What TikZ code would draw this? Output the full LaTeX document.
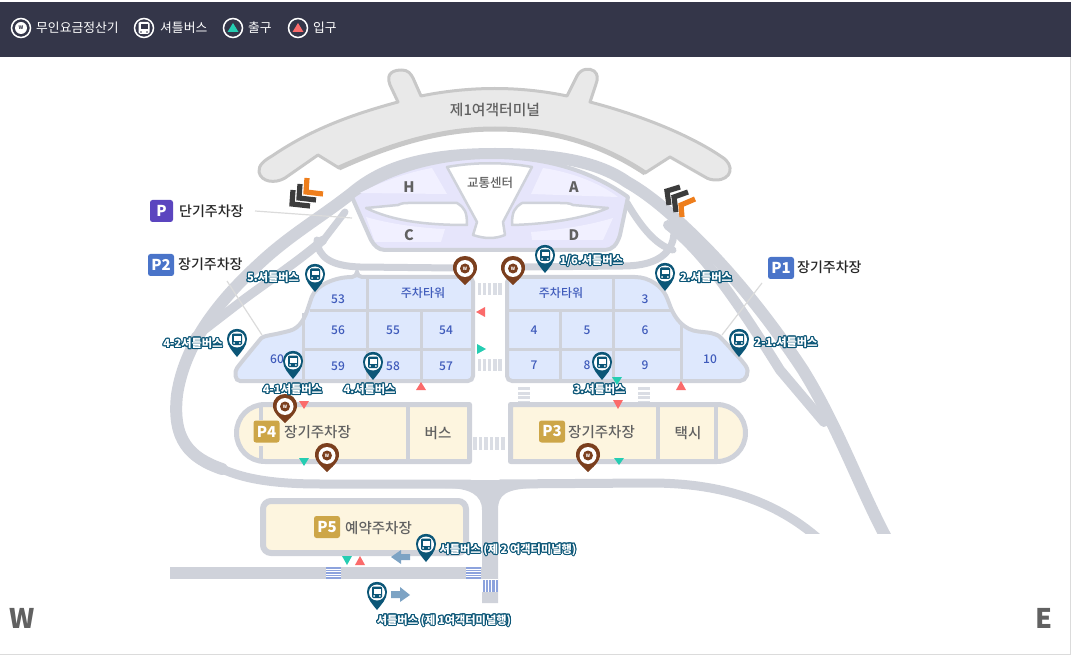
\documentclass[tikz,border=0pt]{standalone}
\usepackage{fontspec}
\usepackage{xcolor}
\usepackage[copies]{contour}
\setmainfont{Noto Sans CJK KR}
\newfontfamily\krmedium{Noto Sans CJK KR Medium}
\usetikzlibrary{positioning,calc}

\definecolor{barnavy}{HTML}{343649}
\definecolor{roadgray}{HTML}{CFD2DA}
\definecolor{stripegray}{HTML}{DADDE4}
\definecolor{termfill}{HTML}{E9E9E9}
\definecolor{termline}{HTML}{C8C8C8}
\definecolor{lilacfill}{HTML}{E6E5FB}
\definecolor{lilacpale}{HTML}{F1F0FF}
\definecolor{blockblue}{HTML}{DEE8FD}
\definecolor{blocktext}{HTML}{3F5BBB}
\definecolor{creamfill}{HTML}{FDF5DF}
\definecolor{goldbadge}{HTML}{CDA648}
\definecolor{badgeviolet}{HTML}{5B45BF}
\definecolor{badgeblue}{HTML}{4A74C9}
\definecolor{pinblue}{HTML}{0B5677}
\definecolor{pinbrown}{HTML}{7B3F1E}
\definecolor{exitteal}{HTML}{25CDB2}
\definecolor{entrycoral}{HTML}{FB6B6B}
\definecolor{chevorange}{HTML}{EE7E1C}
\definecolor{chevdark}{HTML}{3C3C3C}
\definecolor{stripeblue}{HTML}{8DA3DD}
\definecolor{arrowblue}{HTML}{7DA3C4}

\contourlength{1.05pt}
\contournumber{16}
\newcommand{\pintext}[1]{\contour{pinblue}{\textcolor{white}{#1}}}

\tikzset{
    road/.style={draw=roadgray, line width=12pt, line join=round, line cap=round},
    thinroad/.style={draw=roadgray, line width=7pt, line join=round, line cap=round},
    blockline/.style={draw=roadgray, line width=3pt},
    creamline/.style={draw=roadgray, line width=5pt},
    leaderline/.style={draw=black!14, line width=1.2pt},
    chevron/.style={line width=5.2pt, miter limit=10},
    blocklabel/.style={text=blocktext, font=\fontsize{12}{12}\krmedium},
    graylabel/.style={text=black!62, inner sep=0pt, font=\fontsize{14.5}{15}\krmedium},
    barlabel/.style={text=white, anchor=west, inner sep=0pt, font=\fontsize{12.8}{13}\selectfont},
    placelabel/.style={text=black!85, anchor=west, inner sep=0pt, font=\fontsize{14}{15}\krmedium},
    badge/.style={rounded corners=2.5pt, text=white, minimum height=22pt, inner sep=0pt, font=\fontsize{15}{15}\bfseries\selectfont},
    pinlabel/.style={inner sep=0pt, font=\fontsize{11.2}{12}\bfseries\selectfont},
    pics/buspin/.style={code={
        \fill[pinblue] (-10,-18) .. controls (-10,-11) and (-4,-5) .. (0,0) .. controls (4,-5) and (10,-11) .. (10,-18)
            .. controls (10,-31.5) and (-10,-31.5) .. (-10,-18) -- cycle;
        \fill[white] (0,-17.5) circle[radius=8pt];
        \fill[pinblue, rounded corners=1.2pt] (-5,-23.5) rectangle (5,-12);
        \fill[white] (-3.5,-21) rectangle (3.5,-16.5);
        \fill[white] (-2.8,-14) circle[radius=1pt] (2.8,-14) circle[radius=1pt];
    }},
    pics/wpin/.style={code={
        \fill[pinbrown] (-12,-17) .. controls (-12,-10) and (-4,-4) .. (0,0) .. controls (4,-4) and (12,-10) .. (12,-17)
            .. controls (12,-33) and (-12,-33) .. (-12,-17) -- cycle;
        \fill[white] (0,-16.5) circle[radius=8.5pt];
        \fill[pinbrown] (0,-16.5) circle[radius=5pt];
        \node[text=white, inner sep=0pt, font=\fontsize{4.5}{5}\bfseries\selectfont] (-mark) at (0,-16.5) {W};
    }},
}

\begin{document}
\begin{tikzpicture}[x=1pt,y=-1pt]
    \useasboundingbox (0,0) rectangle (1077,663);

    % Frame and top bar
    \draw[black!14, line width=1pt] (1070.5,2) -- (1070.5,654.5) -- (0,654.5);
    \fill[barnavy] (0,2) rectangle (1071,57);

    % Legend
    \draw[white, line width=1.5pt] (21,28) circle[radius=9.5pt];
    \fill[white] (21,28) circle[radius=6pt];
    \node[text=barnavy, inner sep=0pt, font=\fontsize{5}{5}\bfseries\selectfont] (legendW) at (21,28) {W};
    \node[barlabel] (legendPay) at (36,28) {무인요금정산기};
    \draw[white, line width=1.5pt] (144,28) circle[radius=9.5pt];
    \fill[white, rounded corners=1.5pt] (138.5,22) rectangle (149.5,34);
    \fill[barnavy] (140.5,24.5) rectangle (147.5,29);
    \fill[barnavy] (141,32) circle[radius=0.9pt] (147,32) circle[radius=0.9pt];
    \node[barlabel] (legendBus) at (160,28) {셔틀버스};
    \draw[white, line width=1.5pt] (233,28) circle[radius=9.5pt];
    \fill[exitteal] (227.5,32) -- (233,23) -- (238.5,32) -- cycle;
    \node[barlabel] (legendExit) at (248,28) {출구};
    \draw[white, line width=1.5pt] (298,28) circle[radius=9.5pt];
    \fill[entrycoral] (292.5,32) -- (298,23) -- (303.5,32) -- cycle;
    \node[barlabel] (legendEntry) at (313,28) {입구};

    % Roads
    \begin{scope}
        \clip (0,0) rectangle (1077,533);
        \draw[road] (495,154) .. controls (560,154) and (600,163) .. (627,182)
            .. controls (650,195) and (670,213) .. (690,232)
            .. controls (730,270) and (770,320) .. (803,370)
            .. controls (840,430) and (860,490) .. (890,545);
        \draw[road, line width=10pt] (668,225) .. controls (700,250) and (730,290) .. (780,370) -- (824,422);
        \draw[road, line width=9pt] (500,484) -- (650,483) .. controls (720,483) and (775,500) .. (820,540);
    \end{scope}
    \draw[road] (495,154) .. controls (430,154) and (385,165) .. (352,193)
        .. controls (320,218) and (290,235) .. (260,263)
        .. controls (225,295) and (185,340) .. (177,395)
        .. controls (172,440) and (190,458) .. (222,469);
    \draw[road, line width=9pt] (218,467) .. controls (240,478) and (270,484) .. (320,484) -- (470,484);
    \draw[road, line width=9pt] (323,240) .. controls (300,260) and (270,280) .. (243,300) -- (195,337);
    \draw[thinroad] (345,212) -- (322,242);
    \draw[thinroad] (317,240) .. controls (318,258) and (332,266) .. (360,267) -- (455,268);
    \draw[thinroad] (523,267) -- (623,266) .. controls (650,266) and (668,258) .. (673,240) -- (676,222);
    \draw[thinroad] (627,203) .. controls (640,225) and (655,245) .. (673,250);
    \fill[roadgray] (440,480) -- (540,480) -- (540,488) .. controls (505,488) and (498,495) .. (498,510)
        -- (498,603) -- (482,603) -- (482,510) .. controls (482,495) and (470,488) .. (445,488) -- cycle;
    \fill[roadgray] (170,567) rectangle (482,579);

    % Road crossings
    \fill[white] (326,567) rectangle (341,579);
    \fill[white] (466,567) rectangle (481,579);
    \fill[white] (482,579) rectangle (498,592);
    \foreach \yy in {567,569.5,572,574.5,577} {
        \fill[stripeblue] (326,\yy) rectangle (341,\yy+1.7);
        \fill[stripeblue] (466,\yy) rectangle (481,\yy+1.7);
    }
    \foreach \xx in {482.5,485.8,489.1,492.4,495.7} {
        \fill[stripeblue] (\xx,579.5) rectangle (\xx+2.2,592);
    }
    \foreach \xx in {477.5,482.7,487.9,493.1,498.3} {
        \fill[stripegray] (\xx,283) rectangle (\xx+3.5,295);
        \fill[stripegray] (\xx,359) rectangle (\xx+3.5,371);
    }
    \foreach \xx in {473,478.6,484.2,489.8,495.4,501} {
        \fill[stripegray] (\xx,437) rectangle (\xx+3.6,450);
    }
    \foreach \yy in {387,391.5,396,400.5} {
        \fill[stripegray] (518,\yy) rectangle (530,\yy+3);
        \fill[stripegray] (638,\yy) rectangle (650,\yy+3);
    }

    % Terminal 1
    \draw[termline, fill=termfill, line width=3pt, line join=round]
        (259,172) .. controls (258,165) and (265,160) .. (272,156)
        .. controls (310,130) and (350,115) .. (398,102)
        -- (390,85) .. controls (385,72) and (395,70) .. (402,70) .. controls (408,70) and (411,74) .. (413,78)
        -- (421,96) .. controls (470,86) and (520,86) .. (567,96)
        -- (577,76) .. controls (581,68) and (590,68) .. (594,71) .. controls (598,74) and (598,79) .. (596,84)
        -- (590,102) .. controls (640,115) and (690,135) .. (722,157)
        .. controls (735,165) and (732,180) .. (716,180) .. controls (712,180) and (708,179) .. (705,177)
        -- (670,157) -- (645,173) .. controls (600,143) and (550,129) .. (495,129)
        .. controls (440,129) and (390,145) .. (339,168) -- (318,155) -- (285,178)
        .. controls (275,184) and (261,182) .. (259,172) -- cycle;
    \draw[termline, line width=5pt, line join=round]
        (645,173) .. controls (600,143) and (550,129) .. (495,129) .. controls (440,129) and (390,145) .. (339,168);
    \node[text=black!62, inner sep=0pt, font=\fontsize{14.8}{15}\krmedium] (termOne) at (495,110) {제1여객터미널};

    % Concourse
    \draw[roadgray, fill=lilacfill, line width=4pt, line join=round]
        (352,197) .. controls (390,170) and (440,157) .. (492,157) .. controls (545,157) and (590,170) .. (628,197)
        -- (620,235) .. controls (617,245) and (612,250) .. (605,250) -- (385,250)
        .. controls (378,250) and (374,245) .. (371,240) -- cycle;
    \fill[lilacpale] (360,193) .. controls (385,180) and (410,172) .. (432,168) -- (447,194) -- cycle;
    \fill[lilacpale] (543,168) .. controls (570,172) and (598,182) .. (618,197) -- (531,194) -- cycle;
    \fill[lilacpale] (366,217) .. controls (390,224) and (420,228) .. (445,229) -- (441,242) -- (375,242) -- cycle;
    \fill[lilacpale] (613,218) .. controls (590,225) and (560,230) .. (531,232) -- (532,240) -- (603,240) -- cycle;
    \draw[roadgray, fill=white, line width=2.5pt, line join=round]
        (366,208) -- (398,205) .. controls (402,203) and (405,203) .. (408,203) -- (457,203)
        .. controls (465,208) and (467,212) .. (467,225) .. controls (430,225) and (395,222) .. (366,208) -- cycle;
    \draw[roadgray, fill=white, line width=2.5pt, line join=round]
        (608,208) -- (573,205) .. controls (570,203) and (565,203) .. (560,203) -- (522,203)
        .. controls (514,208) and (512,212) .. (512,225) .. controls (550,224) and (585,218) .. (608,208) -- cycle;
    \draw[roadgray, fill=white, line width=2.5pt, line join=round]
        (447,167) .. controls (475,162) and (505,162) .. (532,167)
        -- (503,222) -- (505,235) .. controls (495,239) and (485,239) .. (473,235) -- (477,222) -- cycle;
    \node[text=black!62, inner sep=0pt, font=\fontsize{12.5}{13}\krmedium] (transitCenter) at (490,183) {교통센터};
    \node[graylabel, font=\fontsize{14.5}{15}\bfseries\selectfont] (gateH) at (409,187) {H};
    \node[graylabel, font=\fontsize{14.5}{15}\bfseries\selectfont] (gateA) at (574,187) {A};
    \node[graylabel, font=\fontsize{14.5}{15}\bfseries\selectfont] (gateC) at (409,235) {C};
    \node[graylabel, font=\fontsize{14.5}{15}\bfseries\selectfont] (gateD) at (574,235) {D};

    % Chevrons
    \draw[chevron, chevdark] (293,190) -- (292,204) -- (310,206);
    \draw[chevron, chevdark] (300,184) -- (299,198) -- (316,200);
    \draw[chevron, chevorange] (307,178) -- (306,192) -- (323,194);
    \draw[chevron, chevdark] (680,187) -- (667,191) -- (669,205);
    \draw[chevron, chevdark] (688,192) -- (674,197) -- (676,212);
    \draw[chevron, chevorange] (695,199) -- (681,205) -- (682,217);

    % Long term blocks
    \draw[roadgray, fill=blockblue, line width=4pt, rounded corners=5pt]
        (357,277) -- (473,277) -- (473,381) -- (245,381)
        .. controls (235,381) and (234,372) .. (240,364) -- (258,342)
        .. controls (263,336) and (272,335) .. (285,332) .. controls (300,328) and (305,318) .. (310,302)
        .. controls (316,285) and (335,277) .. (357,277) -- cycle;
    \draw[blockline] (303,313) -- (303,381);
    \draw[blockline] (310,311) -- (473,311);
    \draw[blockline] (367,277) -- (367,381);
    \draw[blockline] (303,349) -- (473,349);
    \draw[blockline] (421,311) -- (421,381);
    \draw[roadgray, fill=blockblue, line width=4pt, rounded corners=5pt]
        (507,277) -- (630,277) .. controls (650,277) and (662,287) .. (668,300)
        .. controls (675,320) and (685,330) .. (703,332) .. controls (712,333) and (718,335) .. (723,340)
        -- (743,362) .. controls (750,372) and (746,381) .. (735,381) -- (507,381) -- cycle;
    \draw[blockline] (613,277) -- (613,381);
    \draw[blockline] (507,311) -- (672,311);
    \draw[blockline] (507,349) -- (681,349);
    \draw[blockline] (560,311) -- (560,381);
    \draw[blockline] (681,322) -- (681,381);

    % Block numbers
    \node[blocklabel] (towerWest) at (423,293) {주차타워};
    \node[blocklabel] (lot53) at (338,299) {53};
    \node[blocklabel] (lot56) at (338,330) {56};
    \node[blocklabel] (lot55) at (393,330) {55};
    \node[blocklabel] (lot54) at (446,330) {54};
    \node[blocklabel] (lot59) at (338,366) {59};
    \node[blocklabel] (lot58) at (393,366) {58};
    \node[blocklabel] (lot57) at (446,366) {57};
    \node[blocklabel] (lot60) at (277,359) {60};
    \node[blocklabel] (towerEast) at (561,293) {주차타워};
    \node[blocklabel] (lot3) at (645,299) {3};
    \node[blocklabel] (lot4) at (534,330) {4};
    \node[blocklabel] (lot5) at (587,330) {5};
    \node[blocklabel] (lot6) at (645,330) {6};
    \node[blocklabel] (lot7) at (534,365) {7};
    \node[blocklabel] (lot8) at (587,365) {8};
    \node[blocklabel] (lot9) at (645,365) {9};
    \node[blocklabel] (lot10) at (710,359) {10};

    % P4 and P3
    \draw[creamline, fill=creamfill, line join=round]
        (265,404.5) -- (469.5,404.5) -- (469.5,461.5) -- (265,461.5)
        .. controls (249,461.5) and (236.5,449) .. (236.5,433) .. controls (236.5,417) and (249,404.5) .. (265,404.5) -- cycle;
    \draw[roadgray, line width=4pt] (408,404) -- (408,462);
    \draw[roadgray, line width=4pt] (261,404) -- (261,420) (261,446) -- (261,462);
    \draw[creamline, fill=creamfill, line join=round]
        (510.5,404.5) -- (717,404.5) .. controls (733,404.5) and (745.5,417) .. (745.5,433)
        .. controls (745.5,449) and (733,461.5) .. (717,461.5) -- (510.5,461.5) -- cycle;
    \draw[roadgray, line width=4pt] (658,404) -- (658,462);
    \draw[roadgray, line width=4pt] (716,404) -- (716,462);

    % P5
    \draw[roadgray, fill=creamfill, line width=6pt, rounded corners=8pt] (263,501) rectangle (466,553);

    % Lot names
    \node[badge, fill=goldbadge, minimum width=26pt] (badgePfour) at (266.5,431.5) {P4};
    \node[graylabel, anchor=west] (namePfour) at (284,432) {장기주차장};
    \node[graylabel] (nameBus) at (438,433) {버스};
    \node[badge, fill=goldbadge, minimum width=26pt] (badgePthree) at (552,431.5) {P3};
    \node[graylabel, anchor=west] (namePthree) at (568,432) {장기주차장};
    \node[graylabel] (nameTaxi) at (688,433) {택시};
    \node[badge, fill=goldbadge, minimum width=26pt] (badgePfive) at (327,527) {P5};
    \node[graylabel, anchor=west] (namePfive) at (345,528) {예약주차장};

    % Place labels with leaders
    \node[badge, fill=badgeviolet, minimum width=23pt] (badgeShort) at (161.5,211) {P};
    \node[placelabel] (nameShort) at (179,211) {단기주차장};
    \coordinate (shortA) at (255,211);
    \coordinate (shortB) at (352,218);
    \draw[leaderline] (shortA) -- (shortB);
    \node[badge, fill=badgeblue, minimum width=26pt] (badgePtwo) at (161,265) {P2};
    \node[placelabel] (namePtwo) at (178,264) {장기주차장};
    \coordinate (ptwoA) at (227,281);
    \coordinate (ptwoB) at (262,335);
    \draw[leaderline] (ptwoA) -- (ptwoB);
    \node[badge, fill=badgeblue, minimum width=26pt] (badgePone) at (781,268) {P1};
    \node[placelabel] (namePone) at (797,267) {장기주차장};
    \coordinate (poneA) at (762,283);
    \coordinate (poneB) at (722,335);
    \draw[leaderline] (poneA) -- (poneB);

    % Entries and exits
    \fill[entrycoral] (476,312) -- (485,307) -- (485,317) -- cycle;
    \fill[exitteal] (486,349) -- (477,344) -- (477,354) -- cycle;
    \fill[entrycoral] (421,382) -- (416,390) -- (426,390) -- cycle;
    \fill[entrycoral] (304,409) -- (299,401) -- (309,401) -- cycle;
    \fill[exitteal] (617,385) -- (612,377) -- (622,377) -- cycle;
    \fill[entrycoral] (681,381) -- (676,390) -- (686,390) -- cycle;
    \fill[entrycoral] (618,409) -- (613,400) -- (623,400) -- cycle;
    \fill[exitteal] (304,466) -- (299,458) -- (309,458) -- cycle;
    \fill[exitteal] (619,465) -- (614,458) -- (624,458) -- cycle;
    \fill[exitteal] (347,565) -- (342,556) -- (352,556) -- cycle;
    \fill[entrycoral] (360,556) -- (355,565) -- (365,565) -- cycle;

    % Shuttle direction
    \fill[arrowblue] (391,557) -- (401,550) -- (401,554) -- (410,554) -- (410,560) -- (401,560) -- (401,564) -- cycle;
    \fill[arrowblue] (410,595) -- (400,587) -- (400,591) -- (391,591) -- (391,598) -- (400,598) -- (400,602) -- cycle;

    % Pay station pins
    \pic (payA) at (465,285) {wpin};
    \pic (payB) at (513,285) {wpin};
    \pic (payC) at (285,423) {wpin};
    \pic (payD) at (327,472) {wpin};
    \pic (payE) at (588,472) {wpin};

    % Shuttle pins
    \pic at (545,273) {buspin};
    \pic at (665,291) {buspin};
    \pic at (739,357) {buspin};
    \pic at (602,380) {buspin};
    \pic at (315,292) {buspin};
    \pic at (237,357) {buspin};
    \pic at (293,379) {buspin};
    \pic at (373,380) {buspin};
    \pic at (426,562) {buspin};
    \pic at (377,610) {buspin};

    \node[pinlabel] (busOneSix) at (591.5,261) {\pintext{1/6.셔틀버스}};
    \node[pinlabel] (busTwo) at (706,278) {\pintext{2.셔틀버스}};
    \node[pinlabel] (busTwoOne) at (786,343) {\pintext{2-1.셔틀버스}};
    \node[pinlabel] (busThree) at (599.5,390) {\pintext{3.셔틀버스}};
    \node[pinlabel] (busFive) at (273,278) {\pintext{5.셔틀버스}};
    \node[pinlabel] (busFourTwo) at (193,344) {\pintext{4-2셔틀버스}};
    \node[pinlabel] (busFourOne) at (292.5,390) {\pintext{4-1셔틀버스}};
    \node[pinlabel] (busFour) at (369.5,390) {\pintext{4.셔틀버스}};
    \node[pinlabel] (busTermTwo) at (508,550) {\pintext{셔틀버스 (제 2 여객터미널행)}};
    \node[pinlabel] (busTermOne) at (444,621) {\pintext{셔틀버스 (제 1여객터미널행)}};

    % Compass
    \node[text=black!62, font=\fontsize{27}{27}\bfseries\selectfont] (west) at (22,618) {W};
    \node[text=black!62, font=\fontsize{27}{27}\bfseries\selectfont] (east) at (1044,618) {E};
\end{tikzpicture}
\end{document}
